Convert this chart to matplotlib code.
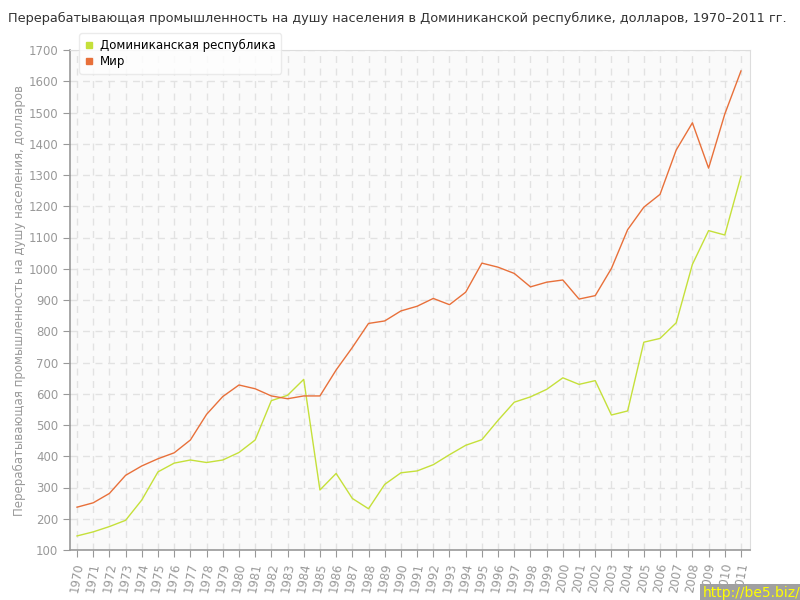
import numpy as np
import matplotlib
matplotlib.use("Agg")
import matplotlib.pyplot as plt
from matplotlib.lines import Line2D

years = list(range(1970, 2012))
dominican = [145, 158, 175, 195, 260, 350, 378, 388, 380, 388,
             412, 452, 578, 595, 646, 292, 345, 265, 232, 310,
             347, 353, 373, 405, 435, 453, 515, 573, 590, 614,
             651, 630, 642, 532, 545, 765, 777, 827, 1014, 1122,
             1108, 1296]
world = [237, 251, 281, 339, 369, 392, 411, 452, 534, 591,
         628, 616, 593, 584, 593, 593, 676, 748, 825, 833,
         865, 880, 905, 885, 925, 1018, 1005, 985, 942, 957,
         964, 903, 914, 1001, 1125, 1197, 1238, 1380, 1467, 1322,
         1495, 1633]
yticks = list(range(100, 1701, 100))
names = ["Доминиканская республика", "Мир"]

green = "#c5e03a"
orange = "#e8703a"
gray = "#999999"

plt.rcParams['font.family'] = ['DejaVu Sans']
fig = plt.figure(figsize=(8, 6), dpi=100)
ax = fig.add_axes([70/800, 1-550/600, 680/800, 500/600])
ax.set_facecolor("#fafafa")

ax.plot(years, dominican, color=green, lw=1.0)
ax.plot(years, world, color=orange, lw=1.0)

ax.set_xlim(1970 - 7/16.17, 2011 + 9/16.17)
ax.set_ylim(100, 1700)
ax.set_yticks(yticks)
ax.set_xticks(years)
ax.set_xticklabels([str(y) for y in years], rotation=80, fontsize=8.5, color=gray)
ax.tick_params(axis='y', labelsize=8.5, labelcolor=gray, color=gray, length=5)
ax.tick_params(axis='x', color=gray, length=5)
ax.grid(True, color="#e2e2e2", ls=(0, (5, 4)), lw=1)
ax.set_axisbelow(True)

for s in ["top", "right"]:
    ax.spines[s].set_color("#dddddd")
for s in ["left", "bottom"]:
    ax.spines[s].set_color(gray)
    ax.spines[s].set_linewidth(1.2)

ax.set_ylabel("Перерабатывающая промышленность на душу населения, долларов",
              fontsize=8.5, color=gray, labelpad=0)
ax.yaxis.set_label_coords(-44/680, 0.5)

fig.text(8/800, 1-18/600,
         "Перерабатывающая промышленность на душу населения в Доминиканской республике, долларов, 1970–2011 гг.",
         fontsize=9.3, color="#333333", va="center", ha="left")

handles = [Line2D([], [], ls="none", marker="s", ms=5, color=c, mec=c)
           for c in (green, orange)]
leg = ax.legend(handles, names, loc="upper left", bbox_to_anchor=(0.005, 1.045),
                frameon=True, fontsize=8.5, handlelength=0.8,
                borderpad=0.45, labelspacing=0.3, handletextpad=0.5,
                fancybox=True, shadow=False)
leg.get_frame().set_edgecolor("#e6e6e6")
leg.get_frame().set_facecolor("white")
leg.set_zorder(10)

fig.text(1.0, 0.0, "http://be5.biz/", fontsize=10, color="#ffff00",
         ha="right", va="bottom",
         bbox=dict(boxstyle="square,pad=0.15", fc="#a0a0a0", ec="none"))

fig.savefig("out.png", dpi=100)
